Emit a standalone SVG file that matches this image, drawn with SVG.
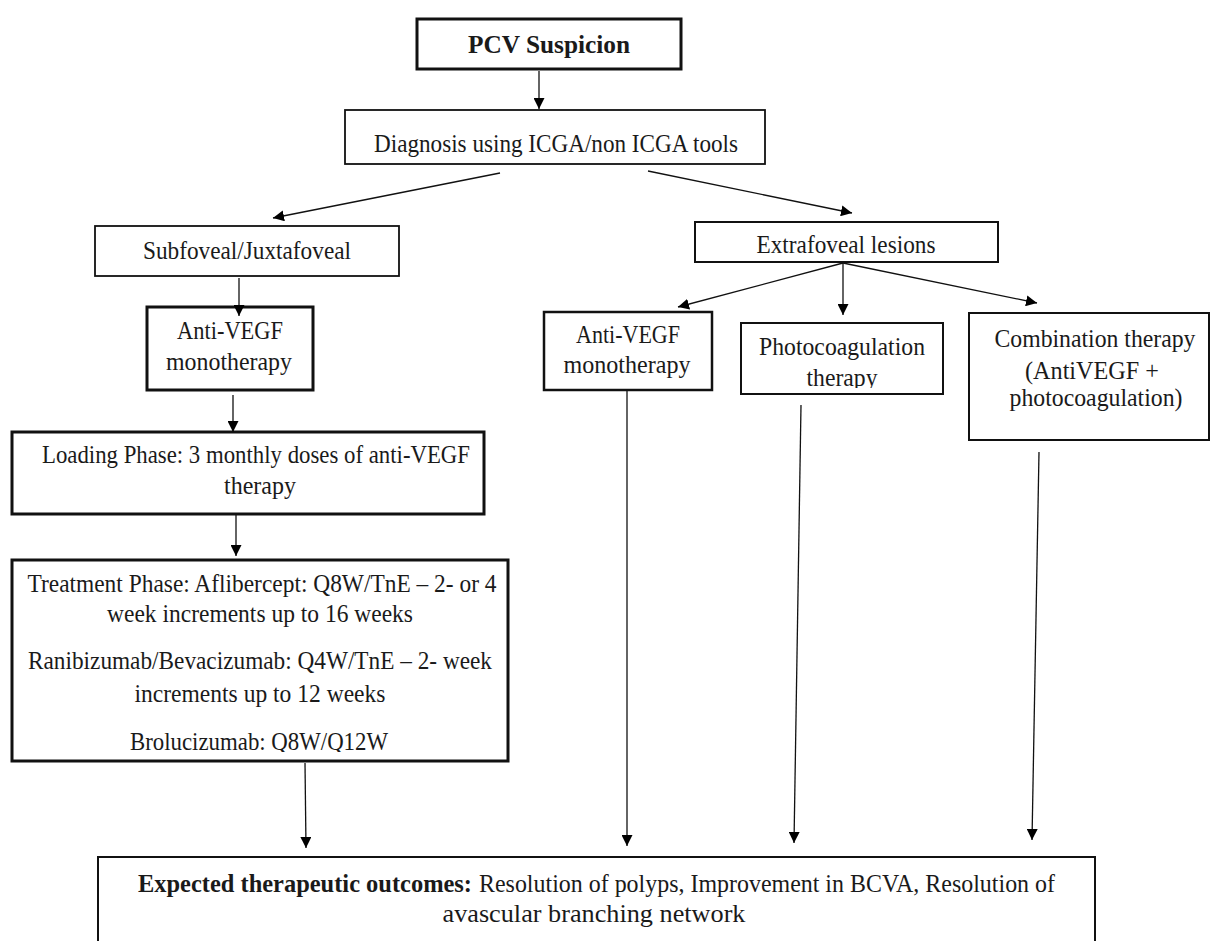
<svg xmlns="http://www.w3.org/2000/svg" width="1211" height="941" viewBox="0 0 1211 941">
<style>
.t{font-family:"Liberation Serif","DejaVu Serif","Times New Roman",serif;font-size:25px;fill:#1a1a1a;text-anchor:middle}
.b{font-weight:bold}
.box{fill:#fff;stroke:#111}
.thick{stroke-width:3}
.thin{stroke-width:1.8}
.c line{stroke:#111;stroke-width:1.3}
</style>
<defs>
<marker id="ah" viewBox="0 0 10 10" refX="10" refY="5" markerWidth="11" markerHeight="11" markerUnits="userSpaceOnUse" orient="auto">
<path d="M0,0 L10,5 L0,10 Z" fill="#000"/>
</marker>
<clipPath id="clipPhoto"><rect x="741" y="323" width="202" height="65"/></clipPath>
<clipPath id="clipBrol"><rect x="12" y="560" width="496" height="192"/></clipPath>
</defs>
<rect width="1211" height="941" fill="#fff"/>

<g id="pcv">
<rect class="box thick" x="417" y="19" width="264" height="50"/>
<text class="t b" x="549" y="53" textLength="162" lengthAdjust="spacingAndGlyphs">PCV Suspicion</text>
</g>
<g id="diagnosis">
<rect class="box thin" x="345" y="110" width="420" height="54"/>
<text class="t" x="556" y="152" textLength="364" lengthAdjust="spacingAndGlyphs">Diagnosis using ICGA/non ICGA tools</text>
</g>
<g id="subfoveal">
<rect class="box thin" x="95" y="226" width="304" height="50"/>
<text class="t" x="247" y="259" textLength="208" lengthAdjust="spacingAndGlyphs">Subfoveal/Juxtafoveal</text>
</g>
<g id="antivegf-left">
<rect class="box thick" x="147" y="307" width="166" height="83"/>
<text class="t" x="230" y="339" textLength="106" lengthAdjust="spacingAndGlyphs">Anti-VEGF</text>
<text class="t" x="229" y="370" textLength="126" lengthAdjust="spacingAndGlyphs">monotherapy</text>
</g>
<g id="loading">
<rect class="box thick" x="12" y="432" width="472" height="82"/>
<text class="t" x="256" y="463" textLength="428" lengthAdjust="spacingAndGlyphs">Loading Phase: 3 monthly doses of anti-VEGF</text>
<text class="t" x="260" y="494" textLength="72" lengthAdjust="spacingAndGlyphs">therapy</text>
</g>
<g id="treatment">
<rect class="box thick" x="12" y="560" width="496" height="201"/>
<text class="t" x="262" y="592" textLength="469" lengthAdjust="spacingAndGlyphs">Treatment Phase: Aflibercept: Q8W/TnE – 2- or 4</text>
<text class="t" x="260" y="622" textLength="306" lengthAdjust="spacingAndGlyphs">week increments up to 16 weeks</text>
<text class="t" x="260" y="669" textLength="464" lengthAdjust="spacingAndGlyphs">Ranibizumab/Bevacizumab: Q4W/TnE – 2- week</text>
<text class="t" x="260" y="702" textLength="251" lengthAdjust="spacingAndGlyphs">increments up to 12 weeks</text>
<text class="t" x="259" y="750" textLength="258" lengthAdjust="spacingAndGlyphs" clip-path="url(#clipBrol)">Brolucizumab: Q8W/Q12W</text>
</g>
<g id="extrafoveal">
<rect class="box" stroke-width="2" x="695" y="222" width="303" height="40"/>
<text class="t" x="846" y="253" textLength="179" lengthAdjust="spacingAndGlyphs">Extrafoveal lesions</text>
</g>
<g id="antivegf-right">
<rect class="box" stroke-width="2.5" x="544" y="312" width="168" height="78"/>
<text class="t" x="628" y="343" textLength="104" lengthAdjust="spacingAndGlyphs">Anti-VEGF</text>
<text class="t" x="627" y="373" textLength="127" lengthAdjust="spacingAndGlyphs">monotherapy</text>
</g>
<g id="photocoagulation">
<rect class="box" stroke-width="2" x="741" y="323" width="202" height="71"/>
<text class="t" x="842" y="355" textLength="166" lengthAdjust="spacingAndGlyphs">Photocoagulation</text>
<text class="t" x="842" y="386" textLength="71" lengthAdjust="spacingAndGlyphs" clip-path="url(#clipPhoto)">therapy</text>
</g>
<g id="combination">
<rect class="box" stroke-width="2" x="969" y="313" width="240" height="127"/>
<text class="t" x="1095" y="347" textLength="201" lengthAdjust="spacingAndGlyphs">Combination therapy</text>
<text class="t" x="1092" y="379" textLength="134" lengthAdjust="spacingAndGlyphs">(AntiVEGF +</text>
<text class="t" x="1096" y="406" textLength="173" lengthAdjust="spacingAndGlyphs">photocoagulation)</text>
</g>
<g id="outcomes">
<rect class="box" stroke-width="2" x="98" y="857" width="997" height="100"/>
<text class="t b" x="138" y="892" style="text-anchor:start" textLength="334" lengthAdjust="spacingAndGlyphs">Expected therapeutic outcomes:</text>
<text class="t" x="479" y="892" style="text-anchor:start" textLength="576" lengthAdjust="spacingAndGlyphs">Resolution of polyps, Improvement in BCVA, Resolution of</text>
<text class="t" x="594" y="922" textLength="303" lengthAdjust="spacingAndGlyphs">avascular branching network</text>
</g>

<g id="connectors" class="c">
<line x1="539" y1="71" x2="539" y2="109" marker-end="url(#ah)"/>
<line x1="500" y1="173" x2="273" y2="218" marker-end="url(#ah)"/>
<line x1="648" y1="171" x2="852" y2="213" marker-end="url(#ah)"/>
<line x1="239" y1="278" x2="239" y2="316" marker-end="url(#ah)"/>
<line x1="233" y1="395" x2="233" y2="432" marker-end="url(#ah)"/>
<line x1="236" y1="514" x2="236" y2="556" marker-end="url(#ah)"/>
<line x1="305" y1="763" x2="306" y2="848" marker-end="url(#ah)"/>
<line x1="843" y1="263" x2="678" y2="307" marker-end="url(#ah)"/>
<line x1="843" y1="263" x2="843" y2="315" marker-end="url(#ah)"/>
<line x1="843" y1="263" x2="1037" y2="303" marker-end="url(#ah)"/>
<line x1="627" y1="390" x2="627" y2="846" marker-end="url(#ah)"/>
<line x1="801" y1="405" x2="794" y2="843" marker-end="url(#ah)"/>
<line x1="1039" y1="452" x2="1032" y2="840" marker-end="url(#ah)"/>
</g>
</svg>
